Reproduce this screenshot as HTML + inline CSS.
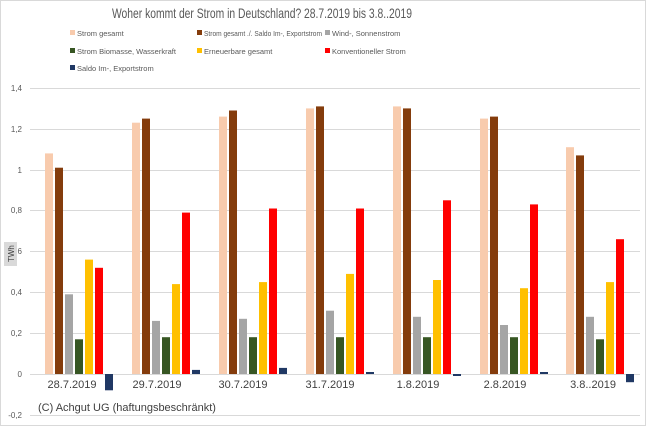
<!DOCTYPE html><html><head><style>body{margin:0;background:#fff}svg{display:block}</style></head><body>
<svg width="646" height="426" xmlns="http://www.w3.org/2000/svg" font-family="Liberation Sans, sans-serif">
<rect x="0.5" y="0.5" width="645" height="425" fill="#fff" stroke="#d9d9d9"/>
<text x="262" y="18" font-size="14" fill="#595959" text-anchor="middle" textLength="300" lengthAdjust="spacingAndGlyphs">Woher kommt der Strom in Deutschland? 28.7.2019 bis 3.8..2019</text>
<g font-size="7.5" fill="#595959">
<rect x="70" y="30" width="5" height="5" fill="#f8cbad"/><text x="77" y="36">Strom gesamt</text>
<rect x="197" y="30" width="5" height="5" fill="#843c0c"/><text x="204" y="36" textLength="118" lengthAdjust="spacingAndGlyphs">Strom gesamt ./. Saldo Im-, Exportstrom</text>
<rect x="325" y="30" width="5" height="5" fill="#a5a5a5"/><text x="332" y="36">Wind-, Sonnenstrom</text>
<rect x="70" y="48" width="5" height="5" fill="#375623"/><text x="77" y="54">Strom Biomasse, Wasserkraft</text>
<rect x="197" y="48" width="5" height="5" fill="#ffc000"/><text x="204" y="54">Erneuerbare gesamt</text>
<rect x="325" y="48" width="5" height="5" fill="#ff0000"/><text x="332" y="54">Konventioneller Strom</text>
<rect x="70" y="65" width="5" height="5" fill="#203864"/><text x="77" y="71">Saldo Im-, Exportstrom</text>
</g>
<g stroke="#d9d9d9" stroke-width="1">
<line x1="30" x2="640" y1="88.5" y2="88.5"/><line x1="30" x2="640" y1="129.5" y2="129.5"/><line x1="30" x2="640" y1="170.5" y2="170.5"/><line x1="30" x2="640" y1="210.5" y2="210.5"/><line x1="30" x2="640" y1="251.5" y2="251.5"/><line x1="30" x2="640" y1="292.5" y2="292.5"/><line x1="30" x2="640" y1="333.5" y2="333.5"/><line x1="30" x2="640" y1="374.5" y2="374.5"/><line x1="30" x2="640" y1="415.5" y2="415.5"/>
</g>
<g font-size="8" fill="#595959" text-anchor="end">
<text x="22" y="91">1,4</text><text x="22" y="132">1,2</text><text x="22" y="173">1</text><text x="22" y="213">0,8</text><text x="22" y="254">0,6</text><text x="22" y="295">0,4</text><text x="22" y="336">0,2</text><text x="22" y="377">0</text><text x="22" y="418">-0,2</text>
</g>
<rect x="4" y="242" width="13" height="24" fill="#d9d9d9"/>
<text transform="translate(14,262) rotate(-90)" font-size="8" fill="#404040">TWh</text>
<g>
<g transform="translate(45,0)">
<rect x="0" y="153.4" width="8" height="220.6" fill="#f8cbad"/><rect x="10" y="167.7" width="8" height="206.3" fill="#843c0c"/><rect x="20" y="294.3" width="8" height="79.7" fill="#a5a5a5"/><rect x="30" y="339.3" width="8" height="34.7" fill="#375623"/><rect x="40" y="259.6" width="8" height="114.4" fill="#ffc000"/><rect x="50" y="267.8" width="8" height="106.2" fill="#ff0000"/><rect x="60" y="374" width="8" height="16.3" fill="#203864"/>
</g>
<g transform="translate(132,0)">
<rect x="0" y="122.7" width="8" height="251.3" fill="#f8cbad"/><rect x="10" y="118.6" width="8" height="255.4" fill="#843c0c"/><rect x="20" y="320.9" width="8" height="53.1" fill="#a5a5a5"/><rect x="30" y="337.2" width="8" height="36.8" fill="#375623"/><rect x="40" y="284.1" width="8" height="89.9" fill="#ffc000"/><rect x="50" y="212.6" width="8" height="161.4" fill="#ff0000"/><rect x="60" y="369.9" width="8" height="4.1" fill="#203864"/>
</g>
<g transform="translate(219,0)">
<rect x="0" y="116.6" width="8" height="257.4" fill="#f8cbad"/><rect x="10" y="110.5" width="8" height="263.5" fill="#843c0c"/><rect x="20" y="318.8" width="8" height="55.2" fill="#a5a5a5"/><rect x="30" y="337.2" width="8" height="36.8" fill="#375623"/><rect x="40" y="282.1" width="8" height="91.9" fill="#ffc000"/><rect x="50" y="208.5" width="8" height="165.5" fill="#ff0000"/><rect x="60" y="367.9" width="8" height="6.1" fill="#203864"/>
</g>
<g transform="translate(306,0)">
<rect x="0" y="108.4" width="8" height="265.6" fill="#f8cbad"/><rect x="10" y="106.4" width="8" height="267.6" fill="#843c0c"/><rect x="20" y="310.7" width="8" height="63.3" fill="#a5a5a5"/><rect x="30" y="337.2" width="8" height="36.8" fill="#375623"/><rect x="40" y="273.9" width="8" height="100.1" fill="#ffc000"/><rect x="50" y="208.5" width="8" height="165.5" fill="#ff0000"/><rect x="60" y="372" width="8" height="2" fill="#203864"/>
</g>
<g transform="translate(393,0)">
<rect x="0" y="106.4" width="8" height="267.6" fill="#f8cbad"/><rect x="10" y="108.4" width="8" height="265.6" fill="#843c0c"/><rect x="20" y="316.8" width="8" height="57.2" fill="#a5a5a5"/><rect x="30" y="337.2" width="8" height="36.8" fill="#375623"/><rect x="40" y="280" width="8" height="94" fill="#ffc000"/><rect x="50" y="200.3" width="8" height="173.7" fill="#ff0000"/><rect x="60" y="374" width="8" height="2" fill="#203864"/>
</g>
<g transform="translate(480,0)">
<rect x="0" y="118.6" width="8" height="255.4" fill="#f8cbad"/><rect x="10" y="116.6" width="8" height="257.4" fill="#843c0c"/><rect x="20" y="325" width="8" height="49" fill="#a5a5a5"/><rect x="30" y="337.2" width="8" height="36.8" fill="#375623"/><rect x="40" y="288.2" width="8" height="85.8" fill="#ffc000"/><rect x="50" y="204.4" width="8" height="169.6" fill="#ff0000"/><rect x="60" y="372" width="8" height="2" fill="#203864"/>
</g>
<g transform="translate(566,0)">
<rect x="0" y="147.2" width="8" height="226.8" fill="#f8cbad"/><rect x="10" y="155.4" width="8" height="218.6" fill="#843c0c"/><rect x="20" y="316.8" width="8" height="57.2" fill="#a5a5a5"/><rect x="30" y="339.3" width="8" height="34.7" fill="#375623"/><rect x="40" y="282.1" width="8" height="91.9" fill="#ffc000"/><rect x="50" y="239.2" width="8" height="134.8" fill="#ff0000"/><rect x="60" y="374" width="8" height="8.2" fill="#203864"/>
</g>
</g>
<g font-size="11" fill="#404040" text-anchor="middle">
<text x="72" y="388">28.7.2019</text><text x="157" y="388">29.7.2019</text><text x="243" y="388">30.7.2019</text><text x="330" y="388">31.7.2019</text><text x="418" y="388">1.8.2019</text><text x="505" y="388">2.8.2019</text><text x="593" y="388">3.8..2019</text>
</g>
<text x="38" y="411" font-size="11" fill="#404040">(C) Achgut UG (haftungsbeschränkt)</text>
</svg>
</body></html>
